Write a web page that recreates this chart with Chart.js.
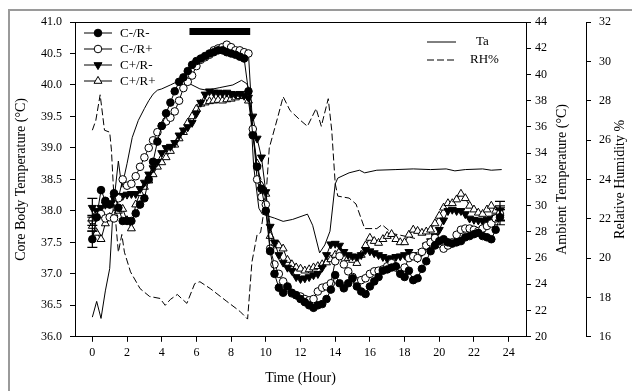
<!DOCTYPE html>
<html>
<head>
<meta charset="utf-8">
<script src="https://cdn.jsdelivr.net/npm/chart.js@4/dist/chart.umd.min.js"></script>
<style>
  html, body { margin: 0; padding: 0; background: #fff; }
  #wrap { width: 632px; height: 391px; position: relative; }
</style>
</head>
<body>
<div id="wrap"><canvas id="chart"></canvas></div>
<script>
// sampling times (hour) for core body temperature
const hours = [
  0, 0.25, 0.5, 0.75, 1, 1.25, 1.5, 1.75, 2, 2.25, 2.5, 2.75, 3, 3.25, 3.5, 3.75,
  4, 4.25, 4.5, 4.75, 5, 5.25, 5.5, 5.75, 6, 6.25, 6.5, 6.75, 7, 7.25, 7.5, 7.75,
  8, 8.25, 8.5, 8.75, 9, 9.25, 9.5, 9.75, 10, 10.25, 10.5, 10.75, 11, 11.25, 11.5, 11.75,
  12, 12.25, 12.5, 12.75, 13, 13.25, 13.5, 13.75, 14, 14.25, 14.5, 14.75, 15, 15.25, 15.5, 15.75,
  16, 16.25, 16.5, 16.75, 17, 17.25, 17.5, 17.75, 18, 18.25, 18.5, 18.75, 19, 19.25, 19.5, 19.75,
  20, 20.25, 20.5, 20.75, 21, 21.25, 21.5, 21.75, 22, 22.25, 22.5, 22.75, 23, 23.25, 23.5
];

const cNegRNeg = [
  37.55, 37.9, 38.33, 38.16, 38.1, 38.28, 38.05, 37.84, 37.84, 37.84, 37.96, 38.1, 38.2, 38.5, 38.78, 39.1,
  39.35, 39.55, 39.72, 39.9, 40.05, 40.12, 40.22, 40.32, 40.38, 40.42, 40.46, 40.5, 40.52, 40.55, 40.55, 40.52,
  40.5, 40.48, 40.45, 40.42, 39.9, 39.2, 38.7, 38.35, 38.0, 37.36, 37.0, 36.78, 36.7, 36.8, 36.7, 36.66,
  36.6, 36.55, 36.5, 36.46, 36.5, 36.52, 36.6, 36.75, 36.98, 36.85, 36.77, 36.85, 36.93, 36.8, 36.72, 36.68,
  36.8, 36.88, 36.95, 37.05, 37.07, 37.1, 37.12, 37.0, 36.95, 37.05, 36.9, 36.93, 37.08, 37.2, 37.36, 37.45,
  37.52, 37.55, 37.5, 37.48, 37.5, 37.52, 37.58, 37.6, 37.63, 37.65, 37.6, 37.58, 37.55, 37.7, 37.9
];
const cNegRPos = [
  37.85, 37.92, 37.95, 37.88, 37.9, 37.88, 38.2, 38.5, 38.4, 38.43, 38.55, 38.7, 38.85, 39.0, 39.12, 39.25,
  39.35, 39.42, 39.48, 39.58, 39.75, 39.95, 40.05, 40.15, 40.3, 40.4, 40.44, 40.48, 40.55, 40.58, 40.6, 40.64,
  40.6, 40.55, 40.55, 40.52, 40.5, 39.3, 38.5, 38.22, 38.1, 37.4, 37.15, 37.0, 36.88, 36.78, 36.69, 36.66,
  36.64, 36.6, 36.58, 36.6, 36.72, 36.78, 36.8, 36.85, 37.2, 37.28, 37.15, 37.04, 36.95, 36.88, 36.9, 36.93,
  37.0, 37.04, 37.05, 37.07, 37.12, 37.17, 37.1, 37.04, 37.1, 37.25, 37.28, 37.25, 37.35, 37.45, 37.5, 37.57,
  37.48, 37.4, 37.45, 37.5, 37.62, 37.7, 37.72, 37.72, 37.7, 37.68, 37.72, 37.76, 37.8, 37.88, 37.95
];
const cPosRNeg = [
  38.05, 38.0, 38.05, 38.1, 38.12, 38.2, 38.24, 38.24, 38.26, 38.27, 38.27, 38.35, 38.45, 38.58, 38.68, 38.78,
  38.92, 39.0, 39.02, 39.08, 39.2, 39.28, 39.33, 39.4, 39.55, 39.72, 39.85, 39.9, 39.88, 39.88, 39.87, 39.88,
  39.86, 39.85, 39.86, 39.83, 39.8, 39.5, 39.15, 38.85, 38.3, 37.75, 37.5, 37.3, 37.18, 37.1, 37.05, 36.95,
  36.92, 36.93, 36.95, 36.98, 37.0, 37.1, 37.3, 37.47, 37.48, 37.45, 37.35, 37.3, 37.28, 37.27, 37.3, 37.38,
  37.36, 37.33, 37.3, 37.27, 37.24, 37.25, 37.27, 37.28, 37.3, 37.35, 37.3, 37.25, 37.35, 37.45, 37.52, 37.6,
  37.7, 37.85, 38.0, 38.02, 38.0, 38.0, 37.95, 37.88, 37.86, 37.85, 37.84, 37.86, 37.88, 37.9, 38.0
];
const cPosRPos = [
  37.76, 37.65, 37.55, 37.8, 37.9, 37.95, 38.0, 38.03, 37.85, 37.72, 38.1, 38.28, 38.38, 38.48, 38.58, 38.7,
  38.77, 38.85, 38.95, 39.05, 39.15, 39.25, 39.4, 39.5, 39.62, 39.7, 39.72, 39.74, 39.75, 39.76, 39.75, 39.77,
  39.78, 39.8, 39.82, 39.83, 39.75, 39.25, 38.75, 38.4, 38.27, 37.6, 37.47, 37.45, 37.4, 37.22, 37.15, 37.1,
  37.08, 37.05, 37.07, 37.1, 37.12, 37.15, 37.18, 37.23, 37.3, 37.36, 37.32, 37.25, 37.22, 37.17, 37.3, 37.45,
  37.57, 37.52, 37.49, 37.55, 37.6, 37.63, 37.55, 37.5, 37.5, 37.62, 37.7, 37.68, 37.65, 37.67, 37.7, 37.8,
  37.92, 38.05, 38.12, 38.12, 38.18, 38.27, 38.2, 38.08, 38.02, 37.97, 37.95, 38.02, 38.08, 38.0, 37.96
];

// SE at first and last sampling point, same order as the four groups
const errFirst = [0.13, 0.08, 0.15, 0.08];
const errLast = [0.12, 0.1, 0.15, 0.12];

// ambient temperature (Ta)
const taHours = [0, 0.25, 0.5, 0.75, 1, 1.2, 1.5, 1.7, 2, 2.3, 2.65, 3, 3.25, 3.5, 3.75, 4, 4.5, 5.05, 5.6, 6.2, 6.6, 7.35, 8.1, 8.6, 8.9, 9.05, 9.3, 9.6, 9.8, 10.5, 11, 11.55, 12.4, 12.7, 13.1, 13.4, 13.7, 14, 14.15, 14.8, 15.4, 15.7, 16.4, 17.5, 18.5, 19.5, 20.4, 20.9, 21.5, 22.5, 23, 23.6];
const taValues = [21.5, 22.7, 21.4, 23.5, 25.2, 29.8, 33.4, 31.4, 33.2, 35.2, 36.5, 37.4, 38.0, 38.5, 38.8, 38.9, 39.2, 39.55, 39.3, 38.9, 38.8, 39.0, 39.2, 39.55, 39.3, 38.8, 33.0, 29.8, 29.35, 29.05, 28.8, 28.95, 29.35, 28.5, 26.4, 27.0, 28.05, 31.65, 32.1, 32.5, 32.7, 32.5, 32.7, 32.75, 32.8, 32.75, 32.8, 32.65, 32.75, 32.8, 32.7, 32.75];

// relative humidity (RH%)
const rhHours = [0, 0.2, 0.45, 0.7, 1, 1.1, 1.2, 1.35, 1.5, 1.7, 1.85, 2.2, 2.75, 3.3, 3.9, 4.2, 4.5, 4.9, 5.2, 5.45, 5.9, 6.2, 6.8, 7.75, 8.5, 8.95, 9.2, 9.5, 9.7, 10, 10.2, 10.7, 11, 11.4, 12, 12.4, 12.9, 13.2, 13.6, 13.8, 14, 14.15, 14.8, 15.2, 15.7, 16.4, 16.7, 17.3, 18.1, 18.6];
const rhValues = [26.5, 27.0, 28.3, 26.5, 26.4, 25.5, 23.8, 21.8, 20.3, 21.2, 20.3, 19.3, 18.45, 18.05, 17.95, 17.6, 17.9, 18.15, 17.9, 17.7, 18.7, 18.8, 18.45, 17.8, 17.3, 16.9, 19.8, 21.2, 21.3, 23.0, 25.6, 27.2, 28.2, 27.5, 27.0, 26.7, 27.6, 26.7, 28.1, 26.5, 23.8, 23.15, 23.05, 22.75, 21.5, 21.5, 21.7, 21.25, 21.1, 21.0];

// heat exposure bar at top of the plot
const heatPeriod = [5.6, 9.1];
const heatBarLevel = 40.85;

const xTicks = [0, 2, 4, 6, 8, 10, 12, 14, 16, 18, 20, 22, 24];

const serif = 'Liberation Serif';
const toXY = (xs, ys) => xs.map((x, i) => ({ x: x, y: ys[i] }));

const groups = [
  { label: 'C-/R-', data: cNegRNeg, fill: '#000', style: 'circle', rot: 0, radius: 3.8 },
  { label: 'C-/R+', data: cNegRPos, fill: '#fff', style: 'circle', rot: 0, radius: 3.8 },
  { label: 'C+/R-', data: cPosRNeg, fill: '#000', style: 'triangle', rot: 180, radius: 4.6 },
  { label: 'C+/R+', data: cPosRPos, fill: '#fff', style: 'triangle', rot: 0, radius: 4.6 }
];

const groupSets = groups.map(g => ({
  label: g.label,
  data: toXY(hours, g.data),
  yAxisID: 'y',
  borderColor: '#000',
  borderWidth: 1,
  pointStyle: g.style,
  pointRotation: g.rot,
  pointRadius: g.radius,
  pointBackgroundColor: g.fill,
  pointBorderColor: '#000',
  pointBorderWidth: 1,
  tension: 0
}));

const errorBars = {
  id: 'errorBars',
  afterDatasetsDraw(chart) {
    const ctx = chart.ctx;
    const ys = chart.scales.y;
    ctx.save();
    ctx.strokeStyle = '#000';
    ctx.lineWidth = 1.2;
    groups.forEach((g, i) => {
      const meta = chart.getDatasetMeta(i);
      [[0, errFirst[i]], [g.data.length - 1, errLast[i]]].forEach(([idx, e]) => {
        const px = meta.data[idx].x;
        const top = ys.getPixelForValue(g.data[idx] + e);
        const bot = ys.getPixelForValue(g.data[idx] - e);
        ctx.beginPath();
        ctx.moveTo(px, top); ctx.lineTo(px, bot);
        ctx.moveTo(px - 5, top); ctx.lineTo(px + 5, top);
        ctx.moveTo(px - 5, bot); ctx.lineTo(px + 5, bot);
        ctx.stroke();
      });
    });
    ctx.restore();
  }
};

// right-hand titles read bottom-to-top in the original, so they are drawn by hand
const rotatedTitle = (ctx, text, x, y) => {
  ctx.save();
  ctx.translate(x, y);
  ctx.rotate(-Math.PI / 2);
  ctx.textAlign = 'center';
  ctx.textBaseline = 'middle';
  ctx.fillText(text, 0, 0);
  ctx.restore();
};

const decorations = {
  id: 'decorations',
  beforeDraw(chart) {
    const ctx = chart.ctx;
    ctx.save();
    ctx.fillStyle = '#fff';
    ctx.fillRect(0, 0, chart.width, chart.height);
    // outer figure frame
    ctx.strokeStyle = '#9a9a9a';
    ctx.lineWidth = 2;
    ctx.beginPath();
    ctx.moveTo(9, chart.height);
    ctx.lineTo(9, 10);
    ctx.lineTo(chart.width, 10);
    ctx.stroke();
    ctx.restore();
  },
  afterDraw(chart) {
    const ctx = chart.ctx;
    const a = chart.chartArea;
    ctx.save();
    // top border of plot
    ctx.strokeStyle = '#000';
    ctx.lineWidth = 1;
    ctx.beginPath();
    ctx.moveTo(a.left, a.top + 0.5);
    ctx.lineTo(a.right, a.top + 0.5);
    ctx.stroke();

    // right axis titles
    ctx.fillStyle = '#000';
    ctx.font = '14px "' + serif + '"';
    const midY = (a.top + a.bottom) / 2;
    rotatedTitle(ctx, 'Ambient Temperature (°C)', chart.scales.yTa.left + 36, midY);
    rotatedTitle(ctx, 'Relative Humidity %', chart.scales.yRH.left + 34, midY);

    // group legend (top-left)
    ctx.font = '13px "' + serif + '"';
    ctx.textBaseline = 'middle';
    groups.forEach((g, i) => {
      const y = a.top + 11 + i * 16;
      const x0 = a.left + 9;
      ctx.strokeStyle = '#000';
      ctx.lineWidth = 1;
      ctx.beginPath();
      ctx.moveTo(x0, y); ctx.lineTo(x0 + 28, y);
      ctx.stroke();
      ctx.fillStyle = g.fill;
      Chart.helpers.drawPoint(ctx, { pointStyle: g.style, rotation: g.rot, radius: g.radius, borderWidth: 1 }, x0 + 14, y);
      ctx.fillStyle = '#000';
      ctx.fillText(g.label, x0 + 36, y + 1);
    });

    // Ta / RH legend (top-right)
    const lx = 427;
    ctx.strokeStyle = '#000';
    ctx.lineWidth = 1;
    ctx.beginPath();
    ctx.moveTo(lx, a.top + 20); ctx.lineTo(lx + 29, a.top + 20);
    ctx.stroke();
    ctx.setLineDash([7, 3]);
    ctx.beginPath();
    ctx.moveTo(lx, a.top + 38); ctx.lineTo(lx + 29, a.top + 38);
    ctx.stroke();
    ctx.setLineDash([]);
    ctx.fillStyle = '#000';
    ctx.fillText('Ta', lx + 49, a.top + 20);
    ctx.fillText('RH%', lx + 43, a.top + 38);
    ctx.restore();
  }
};

const tickFont = { family: serif, size: 12 };
const titleFont = { family: serif, size: 14 };
const axisGrid = { display: true, drawOnChartArea: false, drawTicks: true, tickLength: 5, color: '#000' };
const axisBorder = { display: true, color: '#000', width: 1 };

new Chart(document.getElementById('chart'), {
  type: 'line',
  data: {
    datasets: [
      ...groupSets,
      {
        label: 'Ta',
        data: toXY(taHours, taValues),
        yAxisID: 'yTa',
        borderColor: '#000',
        borderWidth: 1,
        pointRadius: 0,
        tension: 0
      },
      {
        label: 'RH%',
        data: toXY(rhHours, rhValues),
        yAxisID: 'yRH',
        borderColor: '#000',
        borderWidth: 1,
        borderDash: [7, 3],
        pointRadius: 0,
        tension: 0
      },
      {
        label: 'heat',
        data: heatPeriod.map(h => ({ x: h, y: heatBarLevel })),
        yAxisID: 'y',
        borderColor: '#000',
        borderWidth: 7,
        borderCapStyle: 'butt',
        pointRadius: 0
      }
    ]
  },
  options: {
    responsive: true,
    maintainAspectRatio: false,
    animation: false,
    layout: { padding: { left: 13, top: 22, right: 0, bottom: 4 } },
    plugins: {
      legend: { display: false },
      tooltip: { enabled: false }
    },
    scales: {
      x: {
        type: 'linear',
        min: -1,
        max: 25,
        afterBuildTicks: s => { s.ticks = xTicks.map(v => ({ value: v })); },
        grid: axisGrid,
        border: axisBorder,
        ticks: { color: '#000', font: tickFont, padding: 4 },
        title: { display: true, text: 'Time (Hour)', color: '#000', font: titleFont, padding: { top: 6, bottom: 0 } }
      },
      y: {
        position: 'left',
        min: 36,
        max: 41,
        afterFit: s => { s.width = 62; },
        grid: axisGrid,
        border: axisBorder,
        ticks: { stepSize: 0.5, color: '#000', font: tickFont, padding: 8, callback: v => v.toFixed(1) },
        title: { display: true, text: 'Core Body Temperature (°C)', color: '#000', font: titleFont, padding: { top: 0, bottom: 4 } }
      },
      yTa: {
        position: 'right',
        min: 20,
        max: 44,
        afterFit: s => { s.width = 60; },
        grid: axisGrid,
        border: axisBorder,
        ticks: { stepSize: 2, color: '#000', font: tickFont, padding: 4 }
      },
      yRH: {
        position: 'right',
        min: 16,
        max: 32,
        afterFit: s => { s.width = 46; },
        grid: axisGrid,
        border: axisBorder,
        ticks: { stepSize: 2, color: '#000', font: tickFont, padding: 8 }
      }
    }
  },
  plugins: [decorations, errorBars]
});
</script>
</body>
</html>
